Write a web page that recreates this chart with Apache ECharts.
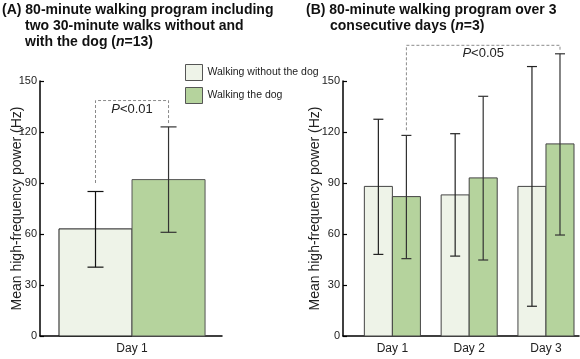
<!DOCTYPE html>
<html><head><meta charset="utf-8">
<script src="https://cdn.jsdelivr.net/npm/echarts@6/dist/echarts.min.js"></script>
<style>html,body{margin:0;padding:0;background:#fff}#c{width:580px;height:359px}</style>
</head><body><div id="c"></div>
<script>
// ---- data ----
const leftCategories = ['Day 1'];
const rightCategories = ['Day 1', 'Day 2', 'Day 3'];
const seriesNames = ['Walking without the dog', 'Walking the dog'];
const yTicks = [0, 30, 60, 90, 120, 150];

const leftWithout = [63];
const leftWithoutLow = [40.5];
const leftWithoutHigh = [85];
const leftWith = [92];
const leftWithLow = [61];
const leftWithHigh = [123];

const rightWithout = [88, 83, 88];
const rightWithoutLow = [48, 47, 17.5];
const rightWithoutHigh = [127.5, 119, 158.5];
const rightWith = [82, 93, 113];
const rightWithLow = [45.5, 44.7, 59.4];
const rightWithHigh = [118, 141, 166];

// significance brackets: [from series idx, from category, to series idx, to category, leftLegBottom, rightLegBottom, top, label]
const leftBracket = [0, 0, 1, 0, 90, 125, 138.5, 'P<0.01'];
const rightBracket = [1, 0, 1, 2, 121, 168, 171, 'P<0.05'];

// ---- layout helpers ----
const LEFT_BW = 0.5, RIGHT_BW = 0.365;
const lightFill = '#eef3e8', greenFill = '#b5d39d';
const font = 'Liberation Sans, Arial, Helvetica, sans-serif';

function xOf(cat, s, bw) { return (cat + 1) + (s === 0 ? -bw / 2 : bw / 2); }

function barSeries(name, vals, s, bw, axisIdx, fill, stroke) {
  return {
    type: 'custom', name: name, xAxisIndex: axisIdx, yAxisIndex: axisIdx,
    itemStyle: { color: fill, borderColor: stroke, borderWidth: 1 },
    data: vals.map((v, i) => [xOf(i, s, bw), v]),
    renderItem: function (params, api) {
      const x = api.value(0), y = api.value(1);
      const p1 = api.coord([x - bw / 2, y]);
      const p2 = api.coord([x + bw / 2, 0]);
      return { type: 'rect', shape: { x: p1[0], y: p1[1], width: p2[0] - p1[0], height: p2[1] - p1[1] },
        style: { fill: fill, stroke: stroke, lineWidth: 1 } };
    }
  };
}

function errSeries(lows, highs, s, bw, axisIdx, color, cap) {
  return {
    type: 'custom', xAxisIndex: axisIdx, yAxisIndex: axisIdx, clip: false, silent: true, z: 5,
    data: lows.map((l, i) => [xOf(i, s, bw), l, highs[i]]),
    renderItem: function (params, api) {
      const x = api.value(0);
      const lo = api.coord([x, api.value(1)]);
      const hi = api.coord([x, api.value(2)]);
      const st = { stroke: color, lineWidth: 1.2 };
      return { type: 'group', children: [
        { type: 'line', shape: { x1: lo[0], y1: lo[1], x2: hi[0], y2: hi[1] }, style: st },
        { type: 'line', shape: { x1: lo[0] - cap, y1: lo[1], x2: lo[0] + cap, y2: lo[1] }, style: st },
        { type: 'line', shape: { x1: hi[0] - cap, y1: hi[1], x2: hi[0] + cap, y2: hi[1] }, style: st }
      ] };
    }
  };
}

function bracketSeries(b, bw, axisIdx) {
  const xa = xOf(b[1], b[0], bw), xb = xOf(b[3], b[2], bw);
  return {
    type: 'custom', xAxisIndex: axisIdx, yAxisIndex: axisIdx, clip: false, silent: true, z: 4,
    data: [[xa, xb, b[4], b[5], b[6]]],
    renderItem: function (params, api) {
      const a1 = api.coord([api.value(0), api.value(2)]);
      const a2 = api.coord([api.value(0), api.value(4)]);
      const b1 = api.coord([api.value(1), api.value(3)]);
      const b2 = api.coord([api.value(1), api.value(4)]);
      const st = { stroke: '#8a8a8a', lineWidth: 1, lineDash: [3, 2], fill: null };
      const label = b[7];
      return { type: 'group', children: [
        { type: 'polyline', shape: { points: [a1, a2, b2, b1] }, style: st },
        { type: 'text', x: (a2[0] + b2[0]) / 2, y: a2[1] + 2,
          style: { text: '{i|' + label[0] + '}{n|' + label.slice(1) + '}', align: 'center', verticalAlign: 'top',
            rich: { i: { fontStyle: 'italic', fontSize: 13, fontFamily: font, fill: '#222' },
                    n: { fontSize: 13, fontFamily: font, fill: '#222' } } } }
      ] };
    }
  };
}

function yAxis(gridIdx, nameGap) {
  return {
    type: 'value', gridIndex: gridIdx, min: 0, max: 150, interval: 30,
    name: 'Mean high-frequency power (Hz)', nameLocation: 'middle', nameGap: nameGap,
    nameMoveOverlap: false,
    nameTextStyle: { fontSize: 14, fontFamily: font, color: '#222' },
    axisLine: { show: true, lineStyle: { color: '#000', width: 1.5 } },
    axisTick: { show: true, inside: true, length: 4, lineStyle: { color: '#000', width: 1.2 } },
    axisLabel: { fontSize: 11, fontFamily: font, color: '#222', margin: 3,
      customValues: yTicks },
    splitLine: { show: false }
  };
}

function xAxis(gridIdx, cats, min, max) {
  return {
    type: 'value', gridIndex: gridIdx, min: min, max: max,
    axisLine: { show: true, onZero: false, lineStyle: { color: '#000', width: 1.5 } },
    axisTick: { show: false },
    splitLine: { show: false },
    axisLabel: { fontSize: 12, fontFamily: font, color: '#222', margin: 7,
      customValues: cats.map((c, i) => i + 1),
      formatter: v => cats[Math.round(v) - 1] || '' }
  };
}

const chart = echarts.init(document.getElementById('c'), null, { renderer: 'canvas' });
chart.setOption({
  animation: false,
  backgroundColor: '#fff',
  grid: [
    { left: 40, top: 81, width: 182, height: 255 },
    { left: 343, top: 81, width: 236, height: 255 }
  ],
  xAxis: [xAxis(0, leftCategories, 0.37, 1.616), xAxis(1, rightCategories, 0.357, 3.43)],
  yAxis: [yAxis(0, 16), yAxis(1, 21)],
  legend: {
    left: 180, top: 59, orient: 'vertical', itemGap: 6, itemWidth: 17, itemHeight: 16, icon: 'rect',
    data: seriesNames,
    itemStyle: { borderColor: '#555', borderWidth: 1 },
    textStyle: { fontSize: 10.5, fontFamily: font, color: '#222' }
  },
  graphic: [
    { type: 'text', left: 2, top: 3, style: { text: '(A) 80-minute walking program including', font: 'bold 14px ' + font, fill: '#111' } },
    { type: 'text', left: 25, top: 19, style: { text: 'two 30-minute walks without and', font: 'bold 14px ' + font, fill: '#111' } },
    { type: 'text', left: 25, top: 35, style: { text: '{b|with the dog (}{i|n}{b|=13)}', fill: '#111',
      rich: { b: { fontWeight: 'bold', fontSize: 14, fontFamily: font, fill: '#111' }, i: { fontWeight: 'bold', fontStyle: 'italic', fontSize: 14, fontFamily: font, fill: '#111' } } } },
    { type: 'text', left: 306, top: 3, style: { text: '(B) 80-minute walking program over 3', font: 'bold 14px ' + font, fill: '#111' } },
    { type: 'text', left: 330, top: 19, style: { text: '{b|consecutive days (}{i|n}{b|=3)}', fill: '#111',
      rich: { b: { fontWeight: 'bold', fontSize: 14, fontFamily: font, fill: '#111' }, i: { fontWeight: 'bold', fontStyle: 'italic', fontSize: 14, fontFamily: font, fill: '#111' } } } }
  ],
  series: [
    barSeries(seriesNames[0], leftWithout, 0, LEFT_BW, 0, lightFill, '#1a1a1a'),
    barSeries(seriesNames[1], leftWith, 1, LEFT_BW, 0, greenFill, '#555'),
    barSeries(seriesNames[0], rightWithout, 0, RIGHT_BW, 1, lightFill, '#444'),
    barSeries(seriesNames[1], rightWith, 1, RIGHT_BW, 1, greenFill, '#444'),
    errSeries(leftWithoutLow, leftWithoutHigh, 0, LEFT_BW, 0, '#111', 8),
    errSeries(leftWithLow, leftWithHigh, 1, LEFT_BW, 0, '#333', 8),
    errSeries(rightWithoutLow, rightWithoutHigh, 0, RIGHT_BW, 1, '#222', 5),
    errSeries(rightWithLow, rightWithHigh, 1, RIGHT_BW, 1, '#333', 5),
    bracketSeries(leftBracket, LEFT_BW, 0),
    bracketSeries(rightBracket, RIGHT_BW, 1)
  ]
});
</script></body></html>
